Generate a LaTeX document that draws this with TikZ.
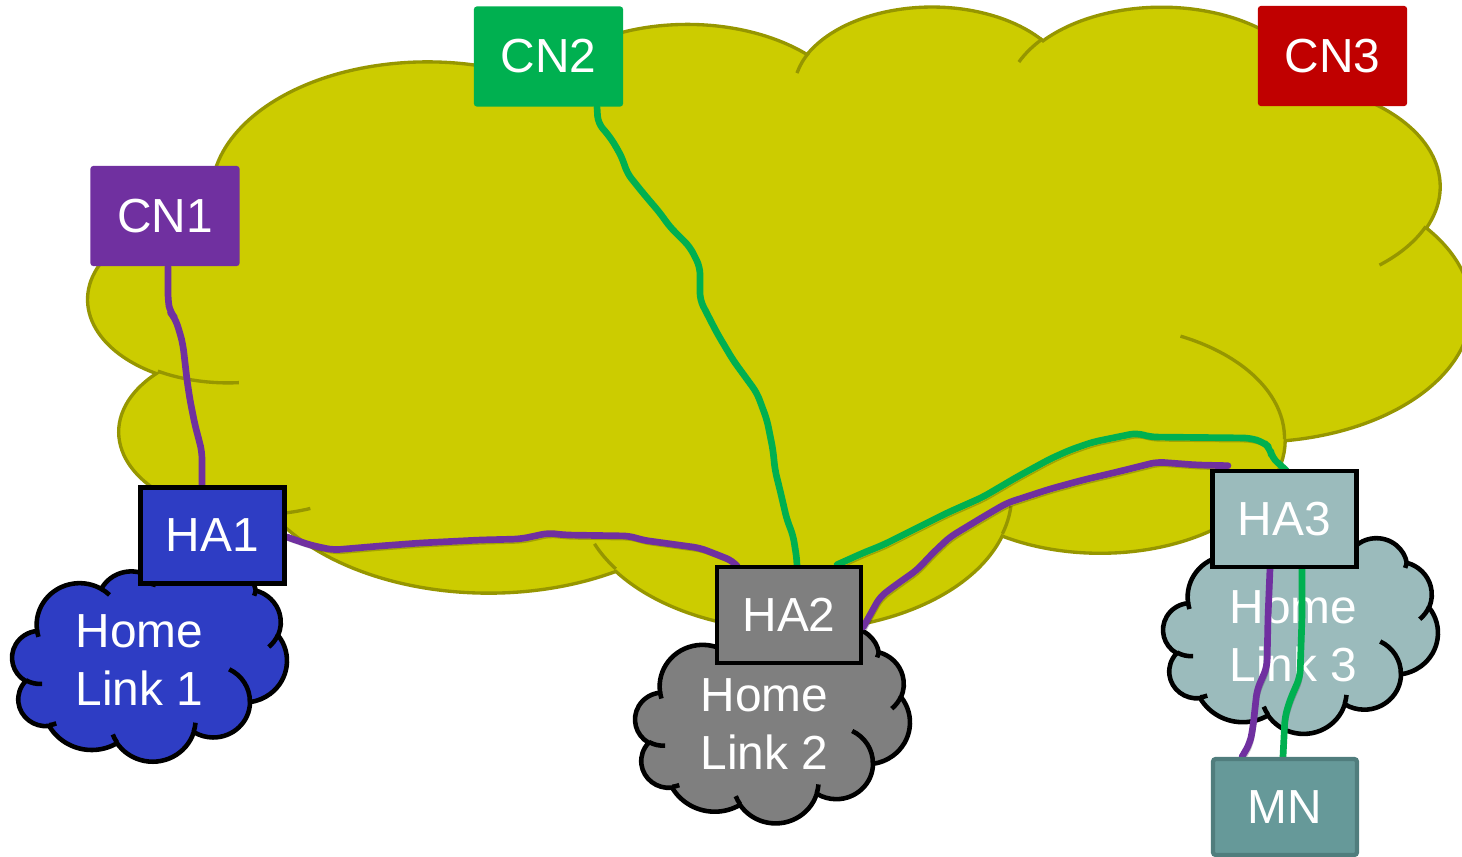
\documentclass[tikz,border=0pt]{standalone}
\usepackage{fontspec}
\setmainfont{Liberation Sans}
\usepackage{tikz}

\definecolor{cloudfill}{RGB}{204,204,0}
\definecolor{cloudedge}{RGB}{150,150,0}
\definecolor{cnpurple}{RGB}{112,48,160}
\definecolor{cngreen}{RGB}{0,176,80}
\definecolor{cnred}{RGB}{192,0,0}
\definecolor{hablue}{RGB}{46,61,196}
\definecolor{hagray}{RGB}{127,127,127}
\definecolor{halight}{RGB}{155,187,188}
\definecolor{mnteal}{RGB}{102,153,153}
\definecolor{mnedge}{RGB}{80,125,125}

\newcommand\diagfont{\fontsize{13.6}{16.5}\selectfont}

% Cloud outline assembled from elliptic arcs. Each arc is given by its radii
% and by the start and sweep of the ray angle seen from the ellipse centre
% (degrees, y axis pointing down); the ray angles are turned into the
% parametric angles that TikZ's arc expects.
\makeatletter
\def\cld@path{}
\newcommand\cldreset{\gdef\cld@path{}}
\newcommand\cldmoveto[2]{\xdef\cld@path{\cld@path (#1,#2)}}
\newcommand\cldarcto[4]{%
  \pgfmathsetmacro\cld@ea{#3+#4}%
  \pgfmathsetmacro\cld@ta{atan2(#1*sin(#3),#2*cos(#3))}%
  \pgfmathsetmacro\cld@tb{atan2(#1*sin(\cld@ea),#2*cos(\cld@ea))}%
  \ifdim #4pt>0pt
    \ifdim \cld@tb pt<\cld@ta pt \pgfmathsetmacro\cld@tb{\cld@tb+360}\fi
  \else
    \ifdim \cld@tb pt>\cld@ta pt \pgfmathsetmacro\cld@tb{\cld@tb-360}\fi
  \fi
  \xdef\cld@path{\cld@path arc[start angle=\cld@ta,end angle=\cld@tb,x radius=#1,y radius=#2]}%
}
\newcommand\cldsave[1]{\global\let#1\cld@path}
\makeatother

% outer outline of the cloud, in a 432 x 432 box
\cldreset
\cldmoveto{39.00}{143.70}
\cldarcto{67.53}{91.90}{-190.48748}{123.78053}
\cldarcto{53.33}{72.67}{-144.10238}{89.94523}
\cldarcto{43.65}{59.45}{-145.80792}{99.72302}
\cldarcto{48.57}{65.95}{-130.98607}{117.24173}
\cldarcto{53.33}{72.73}{-78.70888}{109.02692}
\cldarcto{67.75}{92.20}{-46.26725}{130.26900}
\cldarcto{57.85}{78.67}{0.62502}{114.03333}
\cldarcto{67.52}{92.15}{22.45160}{115.17255}
\cldarcto{77.20}{105.43}{66.24263}{75.71102}
\cldarcto{43.60}{59.18}{-274.94208}{146.73557}
\cldarcto{43.45}{59.45}{-246.82850}{152.51885}
\cldsave\cloudoutline

% short inner creases where the lobes meet
\cldreset
\cldmoveto{46.93}{261.77}\cldarcto{43.45}{59.45}{86.74200}{26.42950}
\cldmoveto{69.28}{348.99}\cldarcto{43.60}{59.18}{73.61047}{11.44747}
\cldmoveto{164.78}{390.90}\cldarcto{67.52}{92.15}{137.62415}{14.08110}
\cldmoveto{288.27}{347.51}\cldarcto{67.52}{92.15}{6.45327}{15.99835}
\cldmoveto{341.29}{229.54}\cldarcto{57.85}{78.67}{-70.29235}{70.91737}
\cldmoveto{417.98}{153.54}\cldarcto{53.33}{72.73}{30.31803}{27.75150}
\cldmoveto{383.24}{54.26}\cldarcto{48.57}{65.95}{13.74433}{14.85890}
\cldmoveto{290.78}{39.52}\cldarcto{48.57}{65.95}{-149.18145}{18.19537}
\cldmoveto{221.41}{47.20}\cldarcto{43.65}{59.45}{-163.49427}{17.68635}
\cldmoveto{140.00}{51.92}\cldarcto{67.53}{91.90}{-66.70695}{12.31935}
\cldmoveto{41.27}{157.89}\cldarcto{67.53}{91.90}{157.65435}{11.85817}
\cldsave\cloudcreases

\pgfdeclarelayer{clouds}
\pgfdeclarelayer{wires}
\pgfsetlayers{clouds,wires,main}

\begin{document}
\begin{tikzpicture}[x=0.01cm, y=-0.01cm,
  bigcloud/.style={fill=cloudfill, draw=cloudedge, line width=0.95pt},
  bigcrease/.style={draw=cloudedge, line width=0.95pt},
  linkcloud/.style={draw=black, line width=1.3pt},
  linkcrease/.style={draw=black, line width=1.3pt},
  tagbox/.style={rectangle, inner sep=0pt, text=white, font=\diagfont},
  cnbox/.style={tagbox, rounded corners=0.8pt, minimum width=1.49cm, minimum height=1.0cm},
  habox/.style={tagbox, draw=black, line width=1.3pt, minimum width=1.44cm, minimum height=0.96cm},
  mnbox/.style={tagbox, draw=mnedge, line width=1.2pt, rounded corners=0.8pt, minimum width=1.44cm, minimum height=0.96cm},
  linktext/.style={anchor=north west, inner sep=0pt, align=left, text=white, font=\diagfont},
  wire/.style={line width=1.9pt, line join=round, line cap=round, rounded corners=2pt,
    preaction={draw=black, draw opacity=0.2, transform canvas={shift={(0.6pt,-1.1pt)}}}},
  purplewire/.style={wire, draw=cnpurple},
  greenwire/.style={wire, draw=cngreen},
]
\useasboundingbox (0,0) rectangle (1462,857);

% correspondent nodes, home agents and the mobile node
\node[cnbox, fill=cnpurple] (cn1) at (165,216) {CN1};
\node[cnbox, fill=cngreen] (cn2) at (548.5,56.5) {CN2};
\node[cnbox, fill=cnred] (cn3) at (1332.5,56) {CN3};
\node[habox, fill=hablue] (ha1) at (212.5,535.5) {HA1};
\node[habox, fill=hagray] (ha2) at (789,615) {HA2};
\node[habox, fill=halight] (ha3) at (1284.5,519) {HA3};
\node[mnbox, fill=mnteal] (mn) at (1285,807) {MN};

\begin{pgfonlayer}{clouds}
  % the Internet cloud
  \begin{scope}[shift={(88.7,5)}, xscale=3.199, yscale=1.4426]
    \path[bigcloud] \cloudoutline -- cycle;
    \path[bigcrease] \cloudcreases;
  \end{scope}
  % home links
  \begin{scope}[shift={(12.25,565.3)}, xscale=0.6357, yscale=0.453]
    \path[linkcloud, fill=hablue] \cloudoutline -- cycle;
    \path[linkcrease] \cloudcreases;
  \end{scope}
  \begin{scope}[shift={(635.25,627)}, xscale=0.6357, yscale=0.453]
    \path[linkcloud, fill=hagray] \cloudoutline -- cycle;
    \path[linkcrease] \cloudcreases;
  \end{scope}
  \begin{scope}[shift={(1163.25,537.5)}, xscale=0.6357, yscale=0.453]
    \path[linkcloud, fill=halight] \cloudoutline -- cycle;
    \path[linkcrease] \cloudcreases;
  \end{scope}
  \node[linktext] (hl1) at (75,614) {Home\\Link 1};
  \node[linktext] (hl2) at (700,678) {Home\\Link 2};
  \node[linktext] (hl3) at (1229,590) {Home\\Link 3};
\end{pgfonlayer}

\begin{pgfonlayer}{wires}
  % CN1 -- HA1
  \draw[purplewire] ([xshift=0.03cm]cn1.south) -- (168,300) -- (170,312) -- (175,318)
    -- (180,333) -- (183,345) -- (187,380) -- (190,400) -- (195,425) -- (199,440)
    -- (202,452) -- ([xshift=-0.105cm]ha1.north);
  % HA1 -- HA2
  \draw[purplewire] ([yshift=-0.015cm]ha1.east) -- (310,545) -- (333,550) -- (380,546)
    -- (420,543) -- (480,540) -- (520,539) -- (535,536) -- (548,533) -- (565,535)
    -- (630,536) -- (642,540) -- (700,548) -- (718,555) -- (733,561)
    -- ([xshift=-0.53cm]ha2.north);
  % CN2 -- HA2
  \draw[greenwire] ([xshift=0.485cm]cn2.south) -- (598,123) -- (610,137) -- (618,150)
    -- (623,160) -- (627,173) -- (643,193) -- (660,213) -- (670,227) -- (690,247)
    -- (700,267) -- (700,300) -- (717,333) -- (733,360) -- (757,393) -- (767,420)
    -- (773,450) -- (775,470) -- (780,490) -- (787,520) -- (793,535) -- (797,560)
    -- ([xshift=0.08cm]ha2.north);
  % HA2 -- HA3 (green)
  \draw[greenwire] ([xshift=0.48cm]ha2.north) -- (863,553) -- (883,545) -- (907,533)
    -- (933,520) -- (947,513) -- (983,497) -- (1017,477) -- (1050,459) -- (1070,450)
    -- (1093,442) -- (1137,433) -- (1150,437) -- (1250,438) -- (1263,442) -- (1270,448)
    -- (1272,458) -- (1283,467) -- (ha3.north);
  % HA2 -- HA3 (purple)
  \draw[purplewire] ([yshift=-0.12cm]ha2.east) -- (880,597) -- (893,587) -- (917,570)
    -- (933,553) -- (950,537) -- (983,517) -- (1007,503) -- (1050,489) -- (1083,480)
    -- (1117,472) -- (1157,462) -- (1197,465) -- ([xshift=-0.565cm,yshift=0.03cm]ha3.north);
  % HA3 -- MN
  \draw[purplewire] ([xshift=-0.145cm]ha3.south) -- (1268,617) -- (1267,667) -- (1257,690)
    -- (1253,727) -- (1250,743) -- ([xshift=-0.43cm]mn.north);
  \draw[greenwire] ([xshift=0.175cm]ha3.south) -- (1302,617) -- (1300,677) -- (1290,700)
    -- (1285,717) -- ([xshift=-0.02cm]mn.north);
\end{pgfonlayer}
\end{tikzpicture}
\end{document}
